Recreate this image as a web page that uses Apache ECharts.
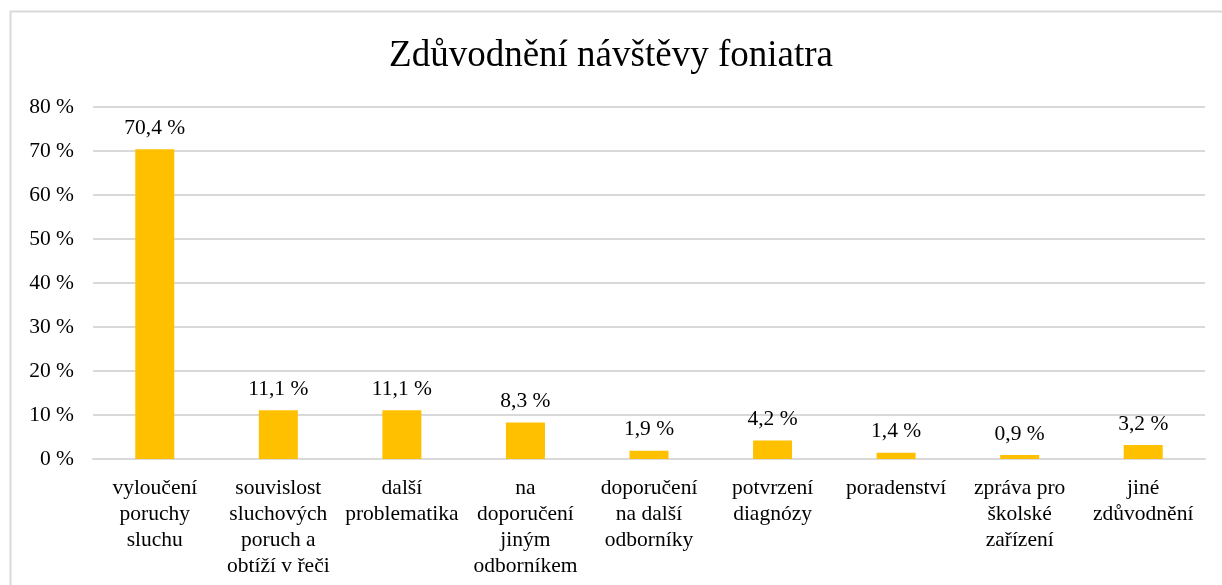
<!DOCTYPE html>
<html>
<head>
<meta charset="utf-8">
<script src="https://cdn.jsdelivr.net/npm/echarts@6/dist/echarts.min.js"></script>
<style>
  html, body { margin: 0; padding: 0; background: #fff; }
  #chart { width: 1222px; height: 585px; }
</style>
</head>
<body>
<div id="chart"></div>
<script>
const title = 'Zdůvodnění návštěvy foniatra'
const categories = [
  'vyloučení\nporuchy\nsluchu',
  'souvislost\nsluchových\nporuch a\nobtíží v řeči',
  'další\nproblematika',
  'na\ndoporučení\njiným\nodborníkem',
  'doporučení\nna další\nodborníky',
  'potvrzení\ndiagnózy',
  'poradenství',
  'zpráva pro\nškolské\nzařízení',
  'jiné\nzdůvodnění',
]
const values = [70.4, 11.1, 11.1, 8.3, 1.9, 4.2, 1.4, 0.9, 3.2]

const font = '"Liberation Serif", "DejaVu Serif", serif'
const chart = echarts.init(document.getElementById('chart'))

chart.setOption({
  animation: false,
  textStyle: { fontFamily: font },
  title: {
    text: title,
    left: 'center',
    top: 33,
    textStyle: { fontFamily: font, fontSize: 37, fontWeight: 'normal', color: '#000' },
  },
  // chart frame, as in the original
  graphic: [{
    type: 'rect',
    shape: { x: 10.5, y: 11.5, width: 1230, height: 600 },
    style: { fill: 'none', stroke: '#d9d9d9', lineWidth: 2 },
    silent: true,
  }],
  grid: { left: 93, right: 17, top: 107, bottom: 126 },
  xAxis: {
    type: 'category',
    data: categories,
    axisLine: { show: true, lineStyle: { color: '#d9d9d9', width: 2 } },
    axisTick: { show: false },
    axisLabel: {
      interval: 0,
      color: '#000',
      fontFamily: font,
      fontSize: 21.5,
      lineHeight: 26,
      margin: 16,
    },
  },
  yAxis: {
    type: 'value',
    min: 0,
    max: 80,
    interval: 10,
    axisLine: { show: false },
    axisTick: { show: false },
    splitLine: { lineStyle: { color: '#d9d9d9', width: 2 } },
    axisLabel: {
      color: '#000',
      fontFamily: font,
      fontSize: 21.5,
      margin: 19,
      formatter: (v) => v + ' %',
    },
  },
  series: [{
    type: 'bar',
    data: values,
    barWidth: 39,
    itemStyle: { color: '#FFC000' },
    label: {
      show: true,
      position: 'top',
      distance: 10,
      color: '#000',
      fontFamily: font,
      fontSize: 21.5,
      formatter: (p) => p.value.toFixed(1).replace('.', ',') + ' %',
    },
  }],
})
</script>
</body>
</html>
